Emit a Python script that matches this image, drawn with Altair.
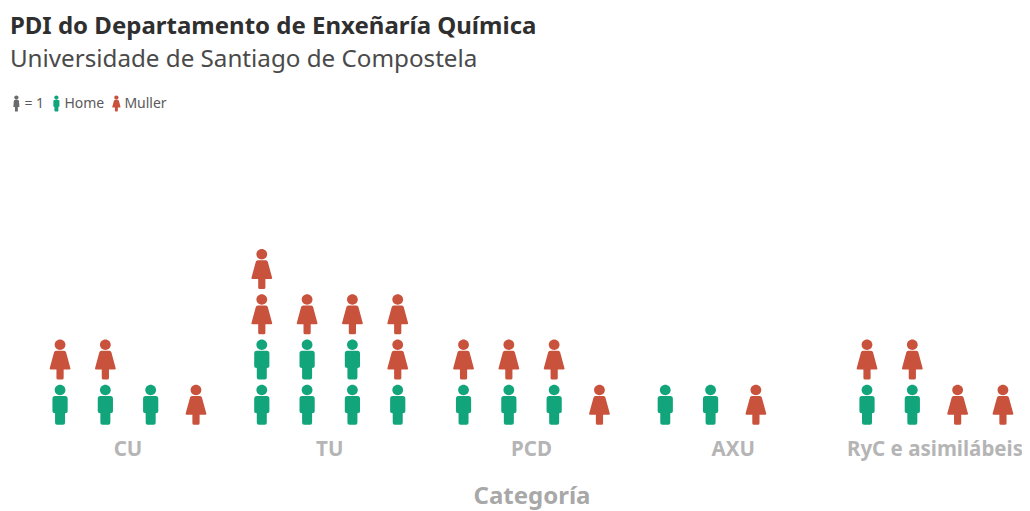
import altair as alt
import pandas as pd

FONT = "Noto Sans"
categories = ["CU", "TU", "PCD", "AXU", "RyC e asimilábeis"]
# one list per category; each inner list is one column, from the bottom upward
columns = {
    "CU": [["Home", "Muller"], ["Home", "Muller"], ["Home"], ["Muller"]],
    "TU": [["Home", "Home", "Muller", "Muller"], ["Home", "Home", "Muller"],
           ["Home", "Home", "Muller"], ["Home", "Muller", "Muller"]],
    "PCD": [["Home", "Muller"], ["Home", "Muller"], ["Home", "Muller"], ["Muller"]],
    "AXU": [["Home"], ["Home"], ["Muller"]],
    "RyC e asimilábeis": [["Home", "Muller"], ["Home", "Muller"], ["Muller"], ["Muller"]],
}
legend_keys = ["= 1", "Home", "Muller"]
legend_colors = ["#6b6b6b", "#12a57b", "#c9523d"]

HEAD = "M-0.27,-0.74A0.27,0.26 0 1,1 0.27,-0.74A0.27,0.26 0 1,1 -0.27,-0.74Z"
MALE = HEAD + ("M-0.25,-0.44L0.25,-0.44Q0.38,-0.44 0.38,-0.31L0.38,0.33Q0.38,0.42 0.25,0.42"
               "L0.25,0.9Q0.25,1 0.15,1L-0.15,1Q-0.25,1 -0.25,0.9L-0.25,0.42"
               "Q-0.38,0.42 -0.38,0.33L-0.38,-0.31Q-0.38,-0.44 -0.25,-0.44Z")
FEMALE = HEAD + ("M-0.2,-0.44L0.2,-0.44Q0.28,-0.44 0.3,-0.36L0.52,0.45Q0.53,0.5 0.45,0.5"
                 "L0.18,0.5L0.18,0.92Q0.18,1 0.1,1L-0.1,1Q-0.18,1 -0.18,0.92L-0.18,0.5"
                 "L-0.45,0.5Q-0.53,0.5 -0.52,0.45L-0.3,-0.36Q-0.28,-0.44 -0.2,-0.44Z")
MIXED = HEAD + ("M-0.2,-0.44L0.2,-0.44Q0.3,-0.44 0.32,-0.34L0.38,0.45L0.18,0.45L0.18,1"
                "L-0.18,1L-0.18,0.45L-0.38,0.45L-0.32,-0.34Q-0.3,-0.44 -0.2,-0.44Z")

rows = []
for cat in categories:
    for c, col in enumerate(columns[cat]):
        for r, sexo in enumerate(col):
            rows.append({"Categoría": cat, "col": c, "row": r, "sexo": sexo})
df = pd.DataFrame(rows)

chart = (
    alt.Chart(df)
    .mark_point(filled=True, size=1600, opacity=1)
    .encode(
        x=alt.X(
            "Categoría:N",
            sort=categories,
            scale=alt.Scale(domain=categories, paddingInner=0.1016, paddingOuter=0),
            axis=alt.Axis(
                labelAngle=0, domain=False, ticks=False, labelPadding=12,
                labelFont=FONT, labelFontSize=20.5, labelFontWeight="bold",
                labelColor="#b5b5b5", title="Categoría", titleFont=FONT,
                titleFontSize=24, titleFontWeight="bold", titleColor="#a8a8a8",
                titlePadding=24, labelLimit=300,
            ),
        ),
        xOffset=alt.XOffset("col:O", scale=alt.Scale(type="band", domain=[0, 1, 2, 3], paddingInner=0, paddingOuter=0)),
        y=alt.Y("row:Q", scale=alt.Scale(domain=[-0.5, 6.5], nice=False, zero=False), axis=None),
        color=alt.Color(
            "sexo:N",
            scale=alt.Scale(domain=legend_keys, range=legend_colors),
            legend=alt.Legend(
                title=None, orient="none", direction="horizontal", columns=3,
                legendX=-29, legendY=-15, symbolSize=256, symbolStrokeWidth=0,
                labelFont=FONT, labelFontSize=14, labelColor="#5a5a5a",
                labelOffset=0, columnPadding=4, symbolOpacity=1,
            ),
        ),
        shape=alt.Shape(
            "sexo:N",
            scale=alt.Scale(domain=legend_keys, range=[MIXED, MALE, FEMALE]),
        ),
    )
    .properties(
        width=988.2,
        height=317,
        background="white",
        autosize=alt.AutoSizeParams(type="none"),
        padding={"left": 29.4, "top": 102.5, "right": -3.6, "bottom": 83},
        title=alt.TitleParams(
            text="PDI do Departamento de Enxeñaría Química",
            subtitle="Universidade de Santiago de Compostela",
            anchor="start", frame="group", dx=-27.5, offset=23,
            font=FONT, fontSize=24, fontWeight="bold", color="#2f2f2f",
            subtitleFont=FONT, subtitleFontSize=24.2, subtitleColor="#4a4a4a",
            subtitleFontWeight="normal", subtitlePadding=9,
        ),
    )
    .configure_view(strokeWidth=0, stroke="transparent")
    .configure_axis(grid=False)
)

chart.save("out.html", embed_options={"renderer": "svg", "actions": False})
